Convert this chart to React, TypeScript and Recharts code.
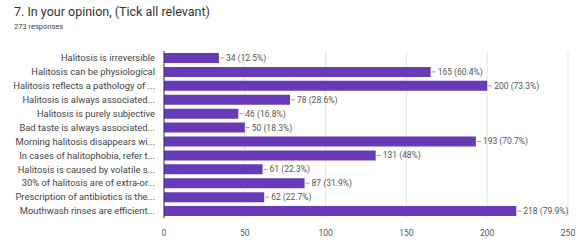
import React from 'react';
import { BarChart, Bar, XAxis, YAxis, CartesianGrid, LabelList } from 'recharts';

const categories = [
  'Halitosis is irreversible',
  'Halitosis can be physiological',
  'Halitosis reflects a pathology of ...',
  'Halitosis is always associated...',
  'Halitosis is purely subjective',
  'Bad taste is always associated...',
  'Morning halitosis disappears wi...',
  'In cases of halitophobia, refer t...',
  'Halitosis is caused by volatile s...',
  '30% of halitosis are of extra-or...',
  'Prescription of antibiotics is the...',
  'Mouthwash rinses are efficient...',
];
const counts = [34, 165, 200, 78, 46, 50, 193, 131, 61, 87, 62, 218];
const percents = ['12.5%', '60.4%', '73.3%', '28.6%', '16.8%', '18.3%', '70.7%', '48%', '22.3%', '31.9%', '22.7%', '79.9%'];
const xTicks = [0, 50, 100, 150, 200, 250];

const data = categories.map((name, i) => ({ name, value: counts[i], pct: percents[i] }));

const ValueLabel = (props: any) => {
  const { x, y, width, height, index } = props;
  const x0 = x + width;
  const cy = y + height / 2;
  return (
    <g>
      <line x1={x0 + 1} x2={x0 + 5} y1={cy} y2={cy} stroke="#888" strokeWidth={0.8} />
      <text x={x0 + 7} y={cy} dy="0.35em" fontSize={8.5} fill="#555">
        {`${counts[index]} (${percents[index]})`}
      </text>
    </g>
  );
};

const CategoryTick = (props: any) => {
  const { x, y, payload } = props;
  return (
    <text x={x - 1} y={y} dy="0.35em" textAnchor="end" fontSize={9.4} fill="#444">
      {payload.value}
    </text>
  );
};

export default function App() {
  return (
    <div style={{ position: 'absolute', left: 0, top: 0, width: 585, height: 250, background: '#fff', fontFamily: 'Roboto, Arial, sans-serif' }}>
      <div style={{ position: 'absolute', left: 14, top: 4, fontSize: 12.5, color: '#333' }}>
        7. In your opinion, (Tick all relevant)
      </div>
      <div style={{ position: 'absolute', left: 14, top: 22, fontSize: 7.5, color: '#444' }}>
        273 responses
      </div>
      <div style={{ position: 'absolute', left: 0, top: 0 }}>
        <BarChart
          width={585}
          height={250}
          data={data}
          layout="vertical"
          margin={{ top: 51, right: 17, bottom: 12, left: 0 }}
          barCategoryGap={2}
          style={{ fontFamily: 'Roboto, Arial, sans-serif' }}
        >
          <CartesianGrid horizontal={false} stroke="#e6e6e6" />
          <XAxis
            type="number"
            domain={[0, 250]}
            ticks={xTicks}
            axisLine={false}
            tickLine={false}
            height={20}
            tick={{ fontSize: 8.5, fill: '#555' }}
            tickMargin={6}
          />
          <YAxis
            type="category"
            dataKey="name"
            width={164}
            axisLine={{ stroke: '#333' }}
            tickLine={false}
            tick={<CategoryTick />}
            interval={0}
          />
          <Bar dataKey="value" fill="#673ab7" isAnimationActive={false}>
            <LabelList dataKey="value" content={<ValueLabel />} />
          </Bar>
        </BarChart>
      </div>
    </div>
  );
}
